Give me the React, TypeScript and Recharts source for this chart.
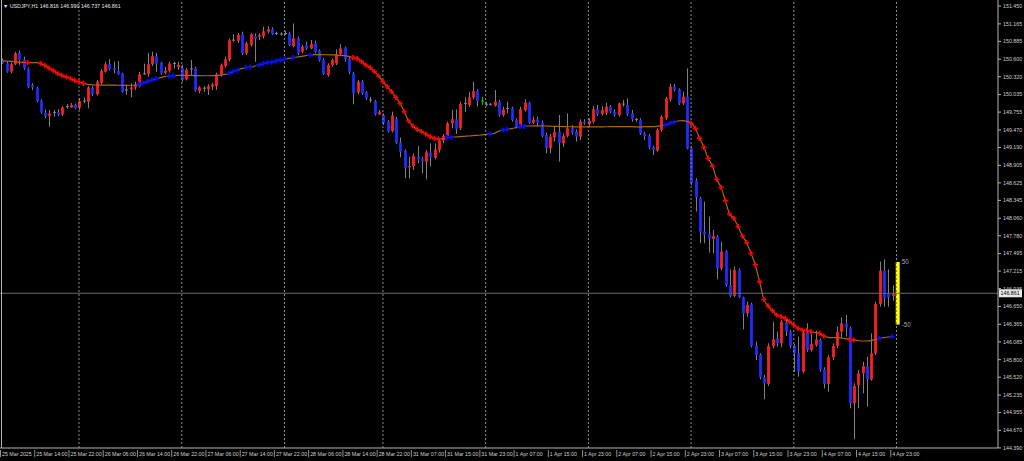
import React from "react";
import {
  ComposedChart,
  Bar,
  Line,
  XAxis,
  YAxis,
  ReferenceLine,
  ReferenceArea,
  ReferenceDot,
} from "recharts";

// ---------- DATA (H1 bars, index 0 = 25 Mar 06:00) ----------
const openPrices = [
  150.590,150.534,150.401,150.525,150.700,150.595,150.454,150.190,150.145,149.940,
  149.745,149.690,149.748,149.750,149.720,149.842,149.830,149.870,149.825,149.932,
  149.920,150.145,150.040,150.225,150.400,150.520,150.455,150.415,150.375,150.108,
  150.120,150.150,150.170,150.365,150.364,150.520,150.650,150.545,150.385,150.415,
  150.532,150.470,150.460,150.280,150.445,150.450,150.090,150.138,150.120,150.165,
  150.170,150.350,150.490,150.590,150.905,150.896,151.000,150.694,150.830,150.970,
  150.960,150.970,151.040,151.077,151.010,151.003,151.010,151.013,150.810,150.933,
  150.720,150.827,150.774,150.854,150.735,150.587,150.348,150.507,150.534,150.678,
  150.784,150.614,150.374,150.070,150.241,150.070,149.950,149.930,149.720,149.710,
  149.602,149.450,149.650,149.267,149.139,148.873,148.893,149.043,149.010,148.963,
  149.107,149.027,149.150,149.300,149.374,149.576,149.640,149.496,149.893,149.869,
  149.990,150.093,149.930,149.880,149.880,149.858,149.922,149.709,149.815,149.815,
  149.629,149.533,149.789,149.906,149.587,149.640,149.587,149.390,149.177,149.352,
  149.443,149.257,149.374,149.496,149.443,149.363,149.602,149.565,149.602,149.800,
  149.725,149.746,149.842,149.762,149.709,149.883,149.869,149.736,149.638,149.629,
  149.416,149.374,149.192,149.139,149.470,149.656,149.959,150.161,150.119,149.895,
  150.002,149.176,148.660,148.378,147.850,147.800,147.728,147.765,147.259,147.526,
  146.993,146.817,147.233,146.796,146.541,146.684,146.019,145.875,145.518,145.411,
  146.019,146.141,146.061,146.391,146.248,146.019,145.901,145.609,146.232,145.955,
  146.035,146.114,145.646,145.412,145.837,146.019,146.248,146.381,146.301,145.103,
  145.396,145.582,145.699,145.486,145.901,146.689,147.222,146.860,146.816,
];

const highPrices = [
  150.614,150.561,150.548,150.720,150.740,150.640,150.470,150.215,150.161,149.960,
  149.800,149.790,149.790,149.800,149.850,149.885,149.900,149.890,149.975,149.990,
  150.170,150.170,150.270,150.440,150.560,150.600,150.560,150.570,150.385,150.190,
  150.215,150.240,150.400,150.530,150.700,150.720,150.700,150.560,150.480,150.560,
  150.560,150.560,150.510,150.460,150.590,150.480,150.170,150.170,150.200,150.225,
  150.385,150.530,150.640,150.930,150.999,151.020,151.040,150.880,151.020,151.010,
  151.013,151.120,151.130,151.110,151.040,151.030,151.050,151.040,151.170,150.960,
  150.827,150.880,150.907,150.896,150.757,150.614,150.534,150.614,150.757,150.838,
  150.800,150.640,150.400,150.268,150.268,150.092,150.000,149.950,149.790,149.735,
  149.629,149.762,149.680,149.350,149.160,149.043,149.097,149.213,149.043,149.150,
  149.256,149.256,149.336,149.405,149.602,149.790,149.800,149.922,149.990,150.080,
  150.242,150.120,150.000,149.920,149.900,150.108,149.949,149.842,149.922,149.842,
  149.656,149.842,149.960,149.922,149.682,149.682,149.620,149.427,149.405,149.523,
  149.709,149.416,149.736,149.550,149.480,149.640,149.640,149.656,149.853,149.869,
  149.850,149.906,149.869,149.800,149.906,149.949,149.975,149.789,149.660,149.656,
  149.443,149.405,149.214,149.496,149.709,150.000,150.204,150.204,150.135,150.082,
  150.454,149.203,148.697,148.404,148.324,148.085,147.872,147.792,147.685,147.552,
  147.243,147.286,147.259,146.807,146.727,146.711,146.088,145.901,145.555,146.061,
  146.407,146.248,146.434,146.434,146.274,146.051,146.168,146.263,146.381,146.221,
  146.263,146.141,145.678,145.875,146.061,146.327,146.477,146.514,146.327,145.422,
  145.635,145.768,145.848,146.221,146.727,147.366,147.403,147.243,146.990,
];

const lowPrices = [
  150.523,150.385,150.374,150.507,150.510,150.430,150.135,150.110,149.910,149.725,
  149.655,149.520,149.680,149.690,149.690,149.810,149.820,149.800,149.790,149.895,
  149.815,150.010,150.020,150.200,150.385,150.420,150.375,150.350,150.065,150.030,
  149.990,150.110,150.150,150.350,150.320,150.490,150.400,150.350,150.360,150.385,
  150.450,150.430,150.240,150.260,150.350,150.080,150.055,150.080,150.030,150.110,
  150.110,150.320,150.470,150.560,150.880,150.860,150.667,150.667,150.800,150.560,
  150.907,150.933,151.010,150.987,150.987,150.980,150.987,150.810,150.790,150.667,
  150.694,150.747,150.760,150.694,150.561,150.348,150.321,150.480,150.507,150.656,
  150.560,150.360,149.880,150.040,150.028,149.950,149.910,149.700,149.710,149.550,
  149.427,149.430,149.245,149.032,148.697,148.697,148.830,148.937,148.777,148.681,
  148.884,149.000,149.107,149.256,149.336,149.496,149.405,149.470,149.760,149.842,
  149.960,149.842,149.870,149.850,149.860,149.842,149.682,149.682,149.736,149.602,
  149.496,149.496,149.762,149.565,149.565,149.523,149.352,149.097,149.097,149.283,
  148.963,149.203,149.352,149.390,149.283,149.310,149.550,149.523,149.576,149.693,
  149.700,149.709,149.736,149.682,149.682,149.842,149.693,149.602,149.600,149.390,
  149.310,149.160,149.070,149.123,149.443,149.629,149.922,150.082,149.869,149.869,
  149.160,148.591,148.165,147.659,147.659,147.510,147.499,147.084,147.233,146.966,
  146.796,146.796,146.780,146.285,146.487,145.997,145.795,145.486,145.167,145.380,
  145.981,146.008,145.997,146.178,145.981,145.609,145.529,145.582,145.928,145.928,
  146.008,145.609,145.342,145.289,145.795,145.981,146.141,146.168,145.023,144.528,
  145.023,145.262,145.049,145.465,145.875,146.647,146.647,146.647,146.737,
];

const closePrices = [
  150.534,150.401,150.520,150.694,150.590,150.454,150.161,150.150,149.930,149.750,
  149.690,149.735,149.748,149.715,149.830,149.842,149.870,149.815,149.930,149.932,
  150.150,150.040,150.240,150.410,150.520,150.440,150.430,150.360,150.080,150.108,
  150.150,150.190,150.360,150.365,150.520,150.650,150.530,150.375,150.415,150.530,
  150.532,150.510,150.270,150.430,150.445,150.100,150.150,150.138,150.170,150.200,
  150.360,150.510,150.600,150.900,150.905,150.987,150.694,150.854,151.000,150.930,
  150.987,151.045,151.077,151.000,151.010,151.003,151.010,150.827,150.933,150.694,
  150.800,150.774,150.843,150.720,150.587,150.364,150.507,150.587,150.678,150.774,
  150.598,150.401,150.055,150.241,150.055,149.975,149.950,149.720,149.762,149.580,
  149.443,149.700,149.267,149.123,148.868,148.895,149.054,149.000,148.969,149.113,
  149.033,149.160,149.299,149.374,149.576,149.640,149.485,149.885,149.893,149.990,
  150.093,149.932,149.930,149.880,149.880,149.922,149.709,149.800,149.815,149.629,
  149.523,149.800,149.906,149.587,149.629,149.587,149.373,149.177,149.363,149.440,
  149.267,149.374,149.496,149.427,149.363,149.602,149.576,149.618,149.800,149.725,
  149.790,149.842,149.762,149.709,149.895,149.883,149.725,149.640,149.638,149.416,
  149.374,149.192,149.150,149.470,149.682,149.975,150.161,150.108,149.895,150.002,
  149.176,148.617,148.394,147.845,147.800,147.738,147.776,147.259,147.526,146.993,
  146.817,147.233,146.796,146.541,146.674,146.019,145.875,145.518,145.422,146.019,
  146.125,146.061,146.407,146.248,146.019,145.901,145.609,146.232,145.955,146.051,
  146.125,145.646,145.412,145.837,146.019,146.248,146.381,146.317,145.103,145.380,
  145.582,145.699,145.486,145.901,146.689,147.222,146.780,146.796,146.861,
];

const maValues = [
  150.577,150.571,150.566,150.561,150.555,150.550,150.545,150.545,150.545,150.534,
  150.502,150.459,150.417,150.374,150.342,150.316,150.289,150.262,150.236,150.215,
  150.199,150.193,150.188,150.187,150.186,150.186,150.185,150.184,150.183,150.183,
  150.184,150.186,150.204,150.220,150.241,150.268,150.289,150.305,150.321,150.332,
  150.337,150.342,150.343,150.342,150.341,150.339,150.337,150.336,150.336,150.337,
  150.340,150.342,150.358,150.374,150.401,150.427,150.449,150.465,150.475,150.491,
  150.507,150.529,150.545,150.555,150.571,150.587,150.603,150.614,150.625,150.635,
  150.646,150.657,150.667,150.672,150.674,150.673,150.671,150.670,150.668,150.656,
  150.656,150.646,150.624,150.608,150.561,150.507,150.465,150.401,150.332,150.241,
  150.161,150.082,149.991,149.895,149.762,149.613,149.533,149.480,149.443,149.405,
  149.363,149.336,149.325,149.331,149.347,149.352,149.357,149.363,149.368,149.373,
  149.379,149.384,149.389,149.400,149.405,149.416,149.448,149.469,149.480,149.491,
  149.507,149.523,149.528,149.533,149.535,149.536,149.535,149.533,149.530,149.528,
  149.526,149.524,149.522,149.521,149.520,149.519,149.518,149.518,149.519,149.520,
  149.520,149.521,149.522,149.522,149.523,149.524,149.524,149.523,149.520,149.516,
  149.523,149.523,149.523,149.528,149.538,149.549,149.576,149.597,149.613,149.618,
  149.608,149.576,149.496,149.336,149.192,149.017,148.894,148.681,148.553,148.340,
  148.127,148.058,147.925,147.776,147.669,147.499,147.313,147.046,146.764,146.658,
  146.583,146.514,146.487,146.461,146.407,146.354,146.301,146.274,146.263,146.248,
  146.232,146.221,146.178,146.157,146.152,146.152,146.146,146.136,146.125,146.114,
  146.104,146.098,146.098,146.104,146.125,146.141,146.152,146.162,146.168,
];

const redMarkerBars = [
  6, 9, 10, 11, 12, 13, 14, 15, 16, 17, 18, 19,
  82, 83, 84, 85, 86, 87, 88, 89, 90, 91, 92, 93, 94, 95, 96, 97, 98, 99, 100, 101, 102,
  161, 162, 163, 164, 165, 166, 167, 168, 169, 170, 171, 172, 173, 174, 175, 176, 177,
  178, 179, 180, 181, 182, 183, 184, 185, 186, 187, 188, 189, 191, 192, 198, 199,
];
const blueMarkerBars = [
  32, 33, 34, 35, 36, 39, 40, 53, 54, 55, 57, 58, 60, 61, 62, 63, 64, 65, 66, 68, 72,
  104, 105, 114, 117, 118, 121, 122, 155, 156, 157, 205, 208,
];
const greenDojiBars = [112];

const timeTickBars = [
  0, 8, 16, 24, 32, 40, 48, 56, 64, 72, 80, 88, 96, 104, 112, 120, 128, 136, 144,
  152, 160, 168, 176, 184, 192, 200, 208,
];
const timeTickLabels = [
  "25 Mar 2025", "25 Mar 14:00", "25 Mar 22:00", "26 Mar 06:00", "26 Mar 14:00",
  "26 Mar 22:00", "27 Mar 06:00", "27 Mar 14:00", "27 Mar 22:00", "28 Mar 06:00",
  "28 Mar 14:00", "28 Mar 22:00", "31 Mar 07:00", "31 Mar 15:00", "31 Mar 23:00",
  "1 Apr 07:00", "1 Apr 15:00", "1 Apr 23:00", "2 Apr 07:00", "2 Apr 15:00",
  "2 Apr 23:00", "3 Apr 07:00", "3 Apr 15:00", "3 Apr 23:00", "4 Apr 07:00",
  "4 Apr 15:00", "4 Apr 23:00",
];
const daySeparatorBars = [18, 42, 66, 89, 113, 137, 161, 185, 209];

const priceTicks = [
  151.45, 151.165, 150.885, 150.6, 150.32, 150.035, 149.755, 149.47, 149.19,
  148.905, 148.625, 148.345, 148.06, 147.78, 147.495, 147.215, 146.935, 146.65,
  146.365, 146.085, 145.8, 145.52, 145.235, 144.955, 144.67, 144.39,
];

const symbolTitle = "USDJPY,H1";
const lastBar = { open: 146.816, high: 146.99, low: 146.737, close: 146.861 };
const rangeHalf = 0.5; // ±50 pips box
const rangeLabels = ["50", "-50"];
const rangeBarSpan = [208.82, 209.74];

const visibleBars = [-0.467, 232.71];
const visiblePrices = [144.389, 151.546];

// ---------- STYLE ----------
const UP = "#ff1e1e";
const DOWN = "#1f2cff";
const WICK = "#808080";
const GREEN = "#00d000";
const MA_COLOR = "#a8680c";
const AXIS = "#b4b4b4";
const TEXT = "#cfcfcf";
const FONT = "Liberation Sans, Arial, sans-serif";
const FS = 5.3;

const rows = openPrices.map((o, i) => ({
  bar: i,
  o,
  h: highPrices[i],
  l: lowPrices[i],
  c: closePrices[i],
  range: [lowPrices[i], highPrices[i]],
  ma: maValues[i],
  mk: redMarkerBars.includes(i) ? "r" : blueMarkerBars.includes(i) ? "b" : "",
}));

function Candle(props: any) {
  const { x, y, width, height, payload } = props;
  if (!payload || !Number.isFinite(x) || !Number.isFinite(y)) return <g />;
  const top = Math.min(y, y + height);
  const span = Math.abs(height);
  const { o, h, l, c, bar } = payload;
  const yOf = (p: number) => top + ((h - p) / (h - l)) * span;
  const cx = Math.round(x + width / 2) + 0.5;
  const yo = yOf(o);
  const yc = yOf(c);
  const green = greenDojiBars.includes(bar);
  const wickColor = green ? GREEN : WICK;
  if (o === c) {
    return (
      <g>
        <line x1={cx} x2={cx} y1={top} y2={top + span} stroke={wickColor} strokeWidth={1} />
        <line x1={cx - 1.5} x2={cx + 1.5} y1={yo} y2={yo} stroke={wickColor} strokeWidth={1} />
      </g>
    );
  }
  const color = c > o ? UP : DOWN;
  const bTop = Math.min(yo, yc);
  const bH = Math.max(1, Math.abs(yo - yc));
  return (
    <g>
      <line x1={cx} x2={cx} y1={top} y2={top + span} stroke={wickColor} strokeWidth={1} />
      <rect x={cx - 1.4} y={bTop} width={2.8} height={bH} fill={color} />
    </g>
  );
}

function renderMarker(p: any) {
  const { cx, cy, payload, index } = p;
  if (!payload || !payload.mk || !Number.isFinite(cx)) return <g key={`mk${index}`} />;
  const col = payload.mk === "r" ? "#ff0000" : "#0010ff";
  const s = 2.6;
  return (
    <path
      key={`mk${index}`}
      d={`M${cx - s},${cy}H${cx + s}M${cx},${cy - s}V${cy + s}`}
      stroke={col}
      strokeWidth={1.7}
      fill="none"
    />
  );
}

function TimeTick(props: any) {
  const { x, y, payload } = props;
  const idx = timeTickBars.indexOf(payload.value);
  const label = idx >= 0 ? timeTickLabels[idx] : "";
  return (
    <g>
      <line x1={x - 1.5} x2={x - 1.5} y1={y - 2} y2={y + 5} stroke={AXIS} strokeWidth={0.8} />
      <text x={x} y={y + 4.2} fill={TEXT} fontSize={FS} fontFamily={FONT} textAnchor="start">
        {label}
      </text>
    </g>
  );
}

function PriceTick(props: any) {
  const { x, y, payload } = props;
  return (
    <text x={x} y={y + 1.9} fill={TEXT} fontSize={FS} fontFamily={FONT} textAnchor="start">
      {Number(payload.value).toFixed(3)}
    </text>
  );
}

function PriceBox(props: any) {
  const vb = props.viewBox || {};
  const yy = vb.y;
  const xx = (vb.x || 0) + (vb.width || 0);
  if (!Number.isFinite(yy)) return null;
  return (
    <g>
      <rect x={xx + 1} y={yy - 4} width={23} height={8} fill="#e8e8e8" />
      <text x={xx + 2.5} y={yy + 1.9} fill="#000" fontSize={FS} fontFamily={FONT}>
        {lastBar.close.toFixed(3)}
      </text>
    </g>
  );
}

function RangeLabel(text: string) {
  return (props: any) => {
    const vb = props.viewBox || {};
    const xx = vb.cx ?? vb.x;
    const yy = vb.cy ?? vb.y;
    if (!Number.isFinite(xx)) return null;
    return (
      <text x={xx + 2} y={yy + 2.5} fill="#a8a8a8" fontSize={6.3} fontFamily={FONT}>
        {text}
      </text>
    );
  };
}

export default function App() {
  return (
    <div
      style={{
        position: "fixed",
        left: 0,
        top: 0,
        width: 1024,
        height: 461,
        background: "#000",
        overflow: "hidden",
      }}
    >
      <ComposedChart
        width={1024}
        height={461}
        data={rows}
        margin={{ top: 0, right: 0, bottom: 0, left: 0 }}
      >
        <XAxis
          dataKey="bar"
          type="number"
          domain={visibleBars}
          allowDataOverflow
          ticks={timeTickBars}
          interval={0}
          tick={<TimeTick />}
          tickLine={false}
          tickSize={3}
          tickMargin={1}
          axisLine={{ stroke: AXIS }}
          height={13}
        />
        <YAxis
          orientation="right"
          type="number"
          domain={visiblePrices}
          allowDataOverflow
          ticks={priceTicks}
          interval={0}
          tick={<PriceTick />}
          tickSize={3}
          tickMargin={2}
          tickLine={{ stroke: AXIS }}
          axisLine={{ stroke: AXIS }}
          width={26}
        />
        {daySeparatorBars.map((b) => (
          <ReferenceLine
            key={`sep${b}`}
            x={b}
            stroke="#8c8c8c"
            strokeDasharray="2 2"
            strokeWidth={1}
          />
        ))}
        <ReferenceLine y={lastBar.close} stroke="#6a6a6a" strokeWidth={1} />
        <Bar
          dataKey="range"
          shape={<Candle />}
          barSize={3}
          isAnimationActive={false}
        />
        <Line
          dataKey="ma"
          type="monotone"
          stroke={MA_COLOR}
          strokeWidth={1.2}
          dot={renderMarker}
          activeDot={false}
          isAnimationActive={false}
        />
        <ReferenceArea
          x1={rangeBarSpan[0]}
          x2={rangeBarSpan[1]}
          y1={lastBar.close - rangeHalf}
          y2={lastBar.close + rangeHalf}
          fill="#ffff00"
          fillOpacity={1}
          stroke="none"
        />
        <ReferenceDot
          x={rangeBarSpan[1]}
          y={lastBar.close + rangeHalf}
          r={0.01}
          fill="none"
          stroke="none"
          label={RangeLabel(rangeLabels[0])}
        />
        <ReferenceDot
          x={rangeBarSpan[1]}
          y={lastBar.close - rangeHalf}
          r={0.01}
          fill="none"
          stroke="none"
          label={RangeLabel(rangeLabels[1])}
        />
        <ReferenceLine
          y={lastBar.close}
          stroke="none"
          label={<PriceBox />}
        />
      </ComposedChart>
      <svg
        width={1024}
        height={461}
        style={{ position: "absolute", left: 0, top: 0, pointerEvents: "none" }}
      >
        <line x1={1.5} x2={1.5} y1={0} y2={448} stroke={AXIS} strokeWidth={1} />
        <text x={3} y={7.8} fill="#e6e6e6" fontSize={FS} fontFamily={FONT}>
          {`\u25BC  ${symbolTitle}  ${lastBar.open.toFixed(3)} ${lastBar.high.toFixed(3)} ${lastBar.low.toFixed(3)} ${lastBar.close.toFixed(3)}`}
        </text>
      </svg>
    </div>
  );
}
